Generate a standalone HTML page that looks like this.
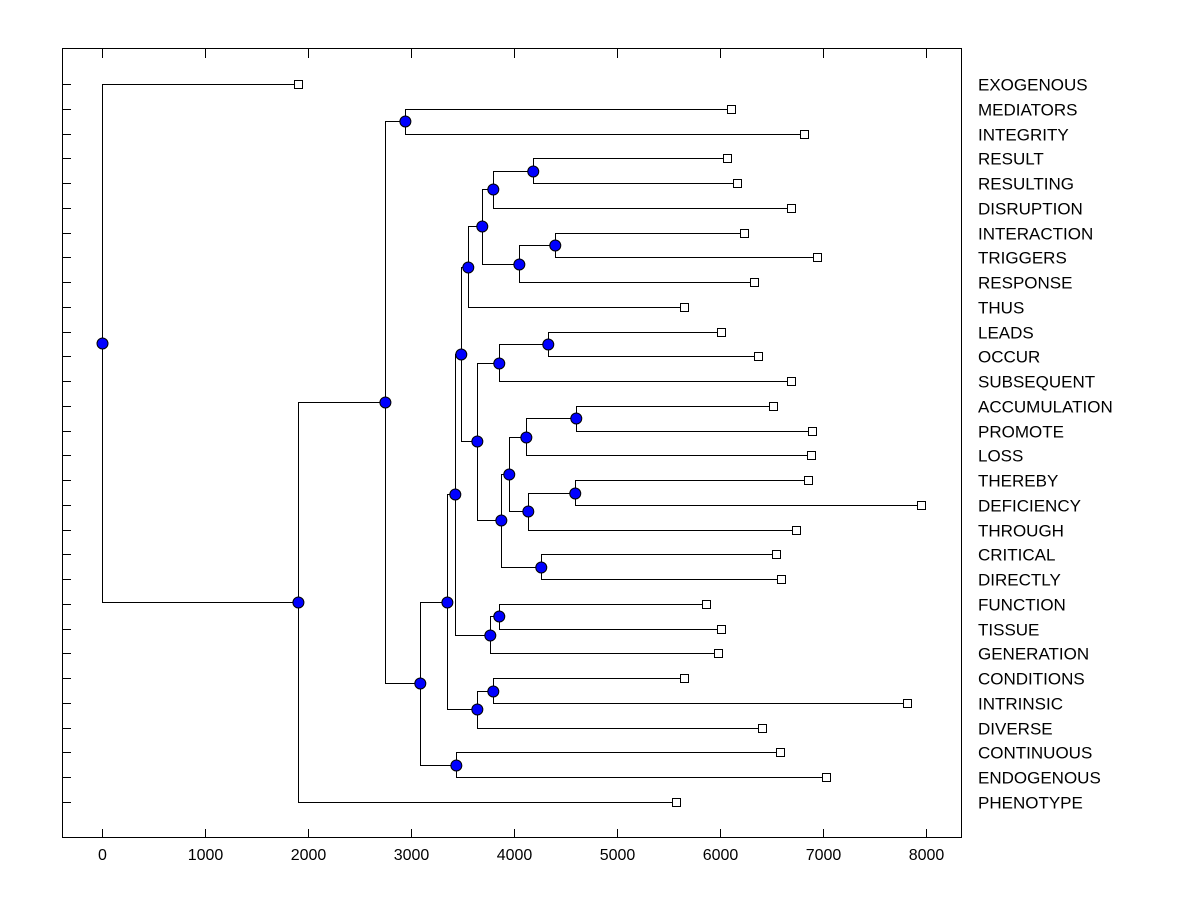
<!DOCTYPE html>
<html><head><meta charset="utf-8"><style>
html,body{margin:0;padding:0;background:#fff;}
svg{display:block;font-family:"Liberation Sans",Arial,sans-serif;}
</style></head><body>
<svg id="chart" width="1200" height="900" viewBox="0 0 1200 900">
<rect x="0" y="0" width="1200" height="900" fill="#fff"/>
<rect x="62.5" y="48.5" width="899" height="789" fill="none" stroke="#000" stroke-width="1"/>
<g id="axes"></g>
<g id="links"></g>
<g id="marks"></g>
<g id="labels"></g>
</svg>
<script>
const leafLabels = ["EXOGENOUS","MEDIATORS","INTEGRITY","RESULT","RESULTING","DISRUPTION","INTERACTION","TRIGGERS","RESPONSE","THUS","LEADS","OCCUR","SUBSEQUENT","ACCUMULATION","PROMOTE","LOSS","THEREBY","DEFICIENCY","THROUGH","CRITICAL","DIRECTLY","FUNCTION","TISSUE","GENERATION","CONDITIONS","INTRINSIC","DIVERSE","CONTINUOUS","ENDOGENOUS","PHENOTYPE"];
const leafHeights = [1903,6107,6816,6068,6165,6689,6233,6942,6330,5650,6010,6369,6689,6515,6893,6883,6854,7951,6738,6544,6592,5864,6010,5981,5650,7816,6408,6583,7029,5573];
const mergeLeft  = [1,3,31,6,33,32,35,10,37,13,39,16,41,40,19,43,38,36,21,48,47,24,51,50,27,53,30,56,0];
const mergeRight = [2,4,5,7,8,34,9,11,12,14,15,17,18,42,20,44,45,46,22,23,49,25,26,52,28,54,55,29,57];
const mergeHeight = [2942,4184,3796,4398,4049,3689,3553,4330,3854,4602,4117,4592,4136,3951,4262,3874,3641,3485,3854,3767,3427,3796,3641,3350,3437,3087,2748,1903,0];
const xTicks = [0,1000,2000,3000,4000,5000,6000,7000,8000];

const NS = "http://www.w3.org/2000/svg";
const xScale = v => 102 + v * 0.10295;
const yScale = i => 84 + i * (802 - 84) / 29;
const axes = document.getElementById('axes');
const links = document.getElementById('links');
const marks = document.getElementById('marks');
const labels = document.getElementById('labels');
function mk(tag, attrs, parent){const e=document.createElementNS(NS,tag);for(const k in attrs)e.setAttribute(k,attrs[k]);parent.appendChild(e);return e;}

xTicks.forEach(t=>{
  const x = Math.round(xScale(t))+0.5;
  const a = mk('line',{x1:x,x2:x,y1:838,y2:829,stroke:'#000'},axes);
  
  
  const b = mk('line',{x1:x,x2:x,y1:49,y2:58,stroke:'#000'},axes);
  
  
  const tx = mk('text',{x:x,y:860,'text-anchor':'middle','font-size':'16'},axes);
  tx.textContent = t;
  
  
});

const nodeX = [], nodeY = [];
leafLabels.forEach((lab,i)=>{
  nodeX[i] = xScale(leafHeights[i]);
  nodeY[i] = yScale(i);
  const y = Math.round(nodeY[i])+0.5;
  const tk = mk('line',{x1:62,x2:71,y1:y,y2:y,stroke:'#000'},axes);
  
  
  const t = mk('text',{x:978,y:y+6,'font-size':'17'},labels);
  t.textContent = lab;
  
  
});

mergeLeft.forEach((l,k)=>{
  const id = leafLabels.length + k;
  const r = mergeRight[k];
  const x = xScale(mergeHeight[k]);
  nodeX[id] = x;
  nodeY[id] = (nodeY[l] + nodeY[r]) / 2;
  const xx = Math.round(x)+0.5;
  const yl = Math.round(nodeY[l])+0.5, yr = Math.round(nodeY[r])+0.5;
  const p = mk('path',{d:`M${Math.round(nodeX[l])} ${yl}H${xx}V${yr}H${Math.round(nodeX[r])}`,fill:'none',stroke:'#000','stroke-width':1},links);
  
  
});

leafLabels.forEach((lab,i)=>{
  const s = mk('rect',{x:Math.round(nodeX[i])-3.5,y:Math.round(nodeY[i])-3.5,width:8,height:8,fill:'#fff',stroke:'#000'},marks);
  
  
});
mergeLeft.forEach((l,k)=>{
  const id = leafLabels.length + k;
  const c = mk('circle',{cx:nodeX[id]+0.5,cy:Math.round(nodeY[id])+0.5,r:5.5,fill:'#0000ff',stroke:'#000','stroke-width':1},marks);
  
  
});
</script>
</body></html>
